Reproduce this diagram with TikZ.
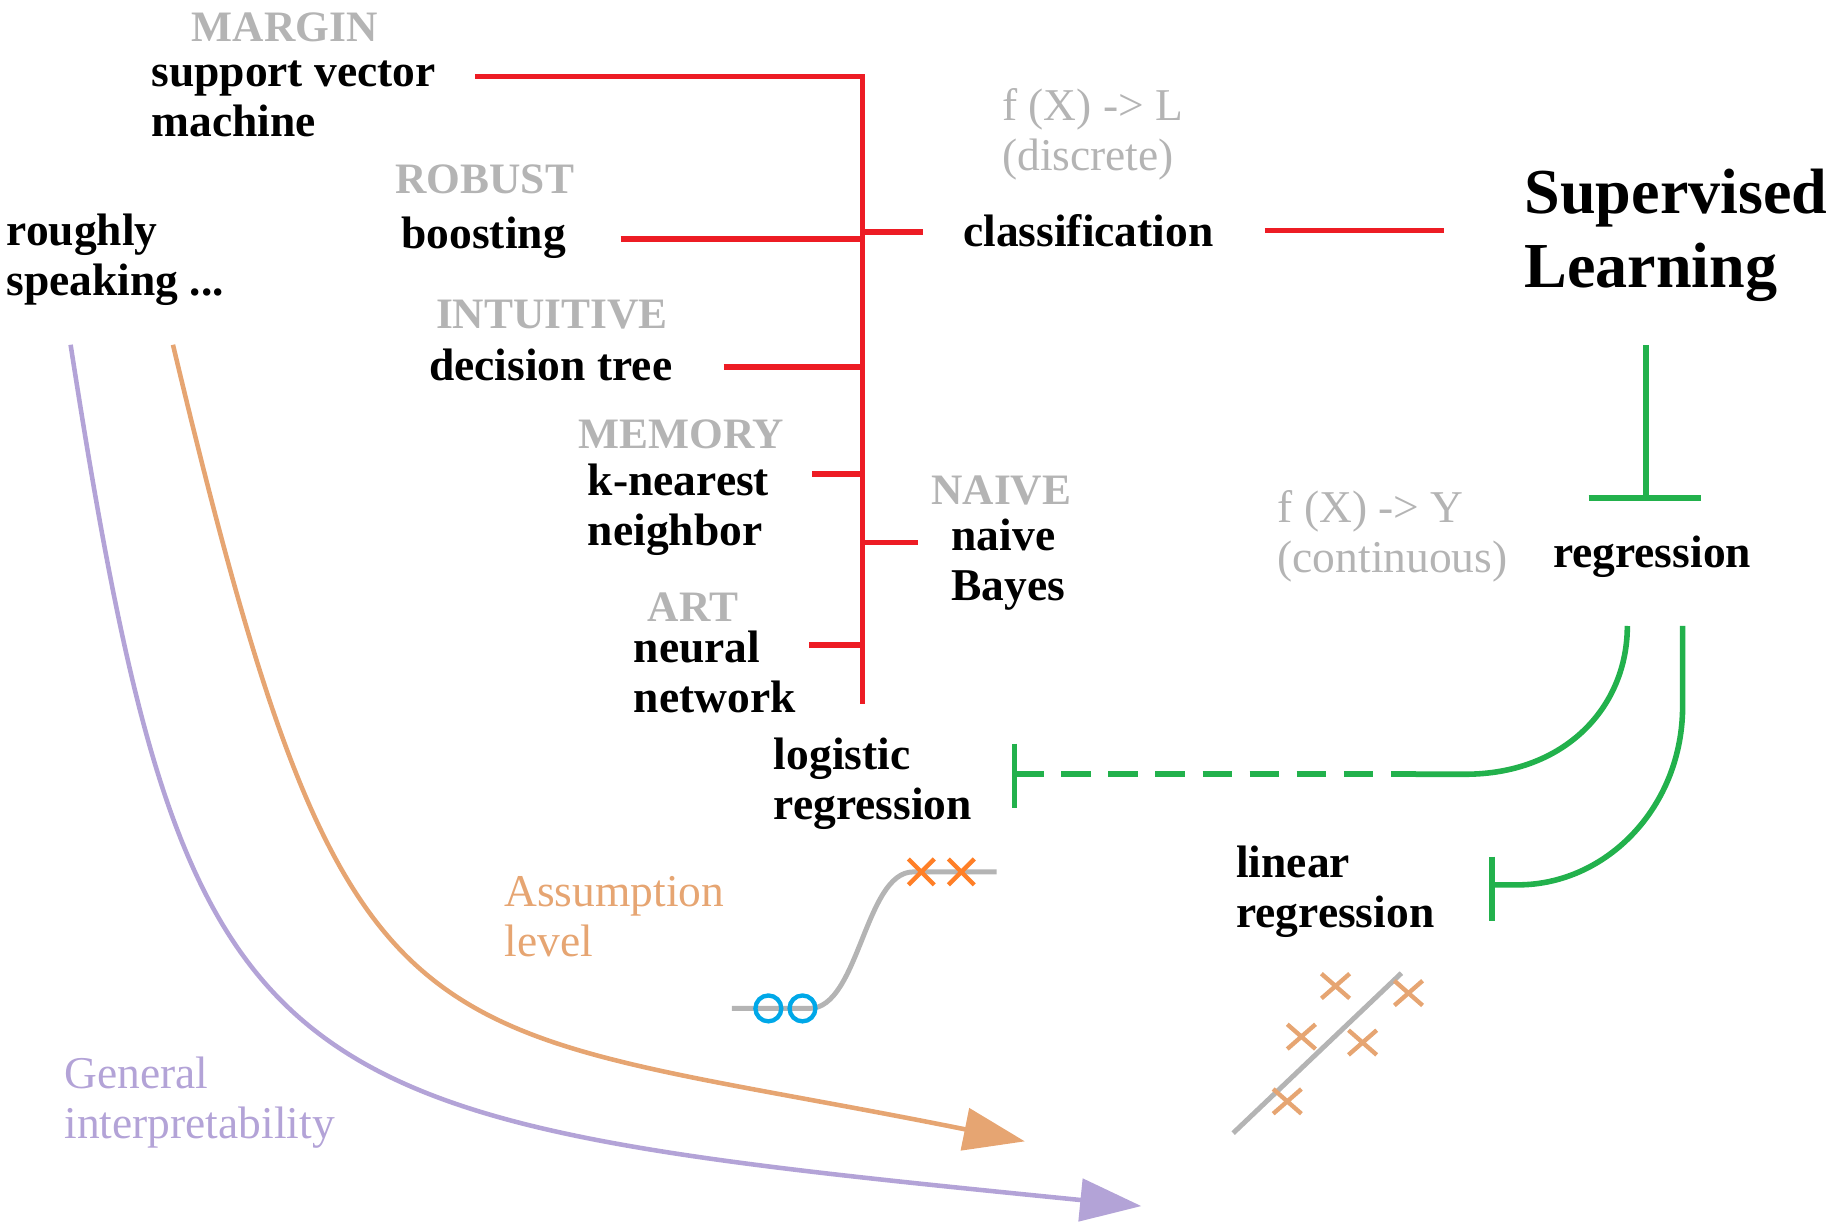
\documentclass[tikz,border=0pt]{standalone}
\usepackage{fontspec}
\setmainfont{Liberation Serif}
\usepackage{xcolor}
\usepackage{tikz}
\usetikzlibrary{arrows.meta}
\definecolor{SLRed}{HTML}{ED1C24}
\definecolor{SLGreen}{HTML}{22B14C}
\definecolor{SLGrey}{HTML}{B4B4B4}
\definecolor{SLLine}{HTML}{B4B4B4}
\definecolor{SLTan}{HTML}{E6A572}
\definecolor{SLLilac}{HTML}{B3A3D7}
\definecolor{SLBlue}{HTML}{00A8E8}
\definecolor{SLOrange}{HTML}{FF7F27}

\begin{document}
\begin{tikzpicture}[x=1cm,y=1cm,
  algo/.style={inner sep=0pt,align=left,font=\fontsize{11}{12}\selectfont\bfseries},
  tag/.style={inner sep=0pt,text=SLGrey,font=\fontsize{10.5}{12}\selectfont\bfseries},
  note/.style={inner sep=0pt,align=left,font=\fontsize{11}{12}\selectfont},
  redline/.style={SLRed,line width=1.35pt},
  greenline/.style={SLGreen,line width=1.35pt},
  trend/.style={line width=1.1pt,-{Triangle[length=0.52cm,width=0.36cm]}},
  plotline/.style={SLLine,line width=1.2pt},
  xmark/.style={line width=1.05pt}]
\path[use as bounding box] (0,0) rectangle (15.68,10.41);

\node[tag] (tMargin) at (2.42,10.18) {MARGIN};
\node[algo,anchor=west] (svm) at (1.28,9.57) {support vector\\machine};
\node[tag] (tRobust) at (4.12,8.89) {ROBUST};
\node[algo] (boost) at (4.11,8.39) {boosting};
\node[tag] (tIntuitive) at (4.69,7.74) {INTUITIVE};
\node[algo] (tree) at (4.68,7.31) {decision tree};
\node[tag] (tMemory) at (5.79,6.72) {MEMORY};
\node[algo,anchor=west] (knn) at (4.99,6.08) {k-nearest\\neighbor};
\node[tag] (tArt) at (5.89,5.25) {ART};
\node[algo,anchor=west] (nn) at (5.38,4.70) {neural\\network};
\node[tag] (tNaive) at (8.51,6.24) {NAIVE};
\node[algo,anchor=west] (nb) at (8.08,5.61) {naive\\Bayes};
\node[note,anchor=west,text=SLGrey] (fL) at (8.51,9.27) {f (X) -> L\\(discrete)};
\node[algo] (cls) at (9.25,8.45) {classification};
\node[inner sep=0pt,align=left,anchor=west,font=\fontsize{15.5}{18.1}\selectfont\bfseries] (sl) at (12.95,8.41) {Supervised\\Learning};
\node[algo,anchor=west] (rough) at (0.05,8.20) {roughly\\speaking ...};
\node[note,anchor=west,text=SLGrey] (fY) at (10.85,5.85) {f (X) -> Y\\(continuous)};
\node[algo] (regr) at (14.04,5.68) {regression};
\node[algo,anchor=west] (logr) at (6.57,3.75) {logistic\\regression};
\node[algo,anchor=west] (linr) at (10.50,2.83) {linear\\regression};
\node[note,anchor=west,text=SLTan] (assume) at (4.28,2.62) {Assumption\\level};
\node[note,anchor=west,text=SLLilac] (interp) at (0.54,1.04) {General\\interpretability};

\coordinate (trunkTop) at (7.33,9.76);
\coordinate (trunkBot) at (7.33,4.43);
\coordinate (brBoost) at (7.33,8.38);
\coordinate (brCls) at (7.33,8.44);
\coordinate (brTree) at (7.33,7.29);
\coordinate (brKnn) at (7.33,6.38);
\coordinate (brNb) at (7.33,5.80);
\coordinate (brNn) at (7.33,4.93);
\draw[redline,shorten <=3.3mm] (svm.east |- trunkTop) -- (trunkTop) -- (trunkBot);
\draw[redline,shorten <=4.6mm] (boost.east |- brBoost) -- (brBoost);
\draw[redline,shorten >=3.4mm] (brCls) -- (cls.west |- brCls);
\draw[redline,shorten <=4.3mm] (tree.east |- brTree) -- (brTree);
\draw[redline,shorten <=3.6mm] (knn.east |- brKnn) -- (brKnn);
\draw[redline,shorten >=2.8mm] (brNb) -- (nb.west |- brNb);
\draw[redline,shorten <=1.1mm] (nn.east |- brNn) -- (brNn);
\draw[redline,shorten <=4.3mm,shorten >=6.8mm] (cls.east) -- (sl.west |- cls.east);

\coordinate (slFoot) at (13.99,7.48);
\coordinate (regBar) at (13.99,6.18);
\coordinate (regL) at (13.83,5.09);
\coordinate (regR) at (14.30,5.09);
\coordinate (logBar) at (8.62,3.83);
\coordinate (logBend) at (12.03,3.83);
\coordinate (linBar) at (12.68,2.89);
\draw[greenline] (slFoot) -- (regBar);
\draw[greenline] ([xshift=-4.9mm]regBar) -- ([xshift=4.7mm]regBar);
\draw[greenline] ([yshift=2.6mm]logBar) -- ([yshift=-2.9mm]logBar);
\draw[greenline,dash pattern=on 2.5mm off 1.5mm] (logBar) -- (logBend);
\draw[greenline] (logBend) -- ++(0.42,0) .. controls (13.30,3.83) and (13.83,4.40) .. (regL);
\draw[greenline] (regR) -- ++(0,-0.68) .. controls (14.30,3.55) and (13.65,2.89) .. (12.90,2.89) -- (linBar);
\draw[greenline] ([yshift=2.4mm]linBar) -- ([yshift=-3.1mm]linBar);

\draw[trend,SLLilac] (0.60,7.48) .. controls (1.61,0.98) and (2.20,0.91) .. (9.70,0.16);
\draw[trend,SLTan] (1.47,7.48) .. controls (2.98,1.15) and (3.45,1.77) .. (8.71,0.71);

\draw[plotline] (6.22,1.84) -- (6.88,1.84) .. controls (7.30,1.84) and (7.35,3.00) .. (7.76,3.00) -- (8.47,3.00);
\foreach \cx in {6.53,6.82}
  \draw[SLBlue,xmark] (\cx,1.84) circle (0.11);
\foreach \cx in {7.83,8.17}
  \draw[SLOrange,xmark] (\cx,3.00) ++(-0.11,-0.11) -- ++(0.22,0.22) ++(-0.22,0) -- ++(0.22,-0.22);

\draw[plotline] (10.48,0.78) -- (11.91,2.14);
\foreach \cx/\cy in {11.35/2.03,11.97/1.97,11.06/1.60,11.58/1.55,10.94/1.05}
  \draw[SLTan,xmark] (\cx,\cy) ++(-0.12,-0.105) -- ++(0.24,0.21) ++(-0.24,0) -- ++(0.24,-0.21);
\end{tikzpicture}
\end{document}
